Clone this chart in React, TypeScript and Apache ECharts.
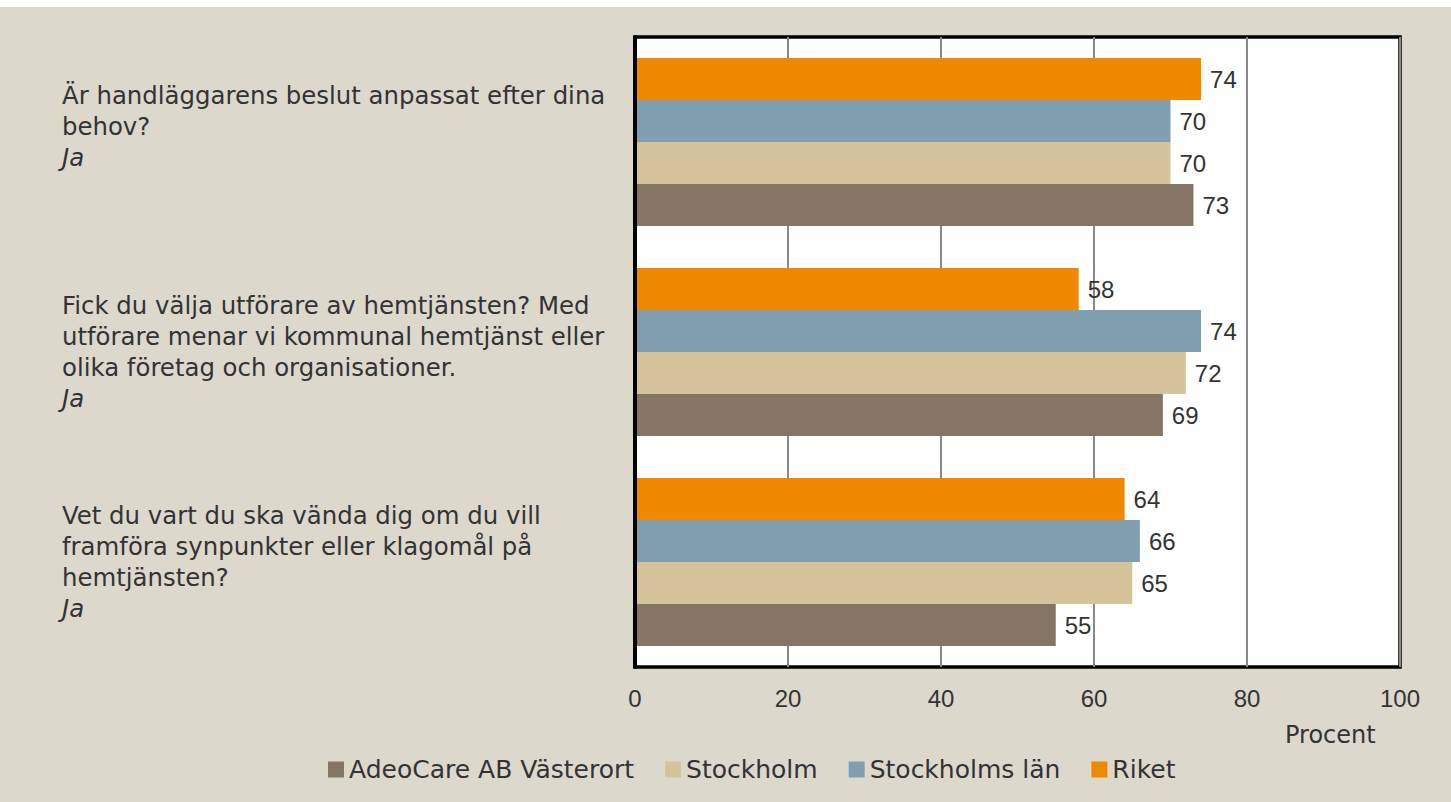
import React, { useEffect, useRef } from "react";
import * as echarts from "echarts";

const categories = [
  "Är handläggarens beslut anpassat efter dina\nbehov?\n{i|Ja}\n ",
  "Fick du välja utförare av hemtjänsten? Med\nutförare menar vi kommunal hemtjänst eller\nolika företag och organisationer.\n{i|Ja}",
  "Vet du vart du ska vända dig om du vill\nframföra synpunkter eller klagomål på\nhemtjänsten?\n{i|Ja}",
];
const legendOrder = ["AdeoCare AB Västerort", "Stockholm", "Stockholms län", "Riket"];
const riket = [74, 58, 64];
const stockholmsLan = [70, 74, 66];
const stockholm = [70, 72, 65];
const adeocare = [73, 69, 55];
const xTicks = [0, 20, 40, 60, 80, 100];

const NUMFONT = "'Liberation Sans', Arial, sans-serif";
const TXTFONT = "'DejaVu Sans', sans-serif";

export default function App() {
  const ref = useRef<HTMLDivElement>(null);
  useEffect(() => {
    if (!ref.current) return;
    const chart = echarts.init(ref.current, undefined, { renderer: "svg" });
    const mk = (name: string, data: number[], color: string) => ({
      name,
      type: "bar",
      data,
      barGap: "0%",
      barCategoryGap: "20%",
      itemStyle: { color },
      label: {
        show: true,
        position: "right",
        distance: 9,
        color: "#333",
        fontSize: 24,
        fontFamily: NUMFONT,
      },
    });
    chart.setOption({
      animation: false,
      backgroundColor: "#dcd9cc",
      textStyle: { fontFamily: TXTFONT },
      grid: {
        left: 635,
        right: 51,
        top: 30,
        bottom: 135,
        show: true,
        backgroundColor: "#fff",
        borderColor: "#000",
        borderWidth: 3.5,
      },
      legend: {
        data: legendOrder,
        left: 323,
        top: 745,
        itemWidth: 16,
        itemHeight: 16,
        itemGap: 31,
        icon: "rect",
        textStyle: { color: "#333", fontSize: 25, fontFamily: TXTFONT },
      },
      xAxis: {
        type: "value",
        min: xTicks[0],
        max: xTicks[xTicks.length - 1],
        interval: 20,
        axisLine: { show: false },
        axisTick: { show: false },
        splitLine: { lineStyle: { color: "#888", width: 2 } },
        axisLabel: { color: "#333", fontSize: 24, margin: 19, fontFamily: NUMFONT },
      },
      yAxis: {
        type: "category",
        data: categories,
        inverse: true,
        z: 10,
        axisLine: { show: true, lineStyle: { color: "#000", width: 4 } },
        axisTick: { show: false },
        axisLabel: {
          align: "left",
          margin: 573,
          color: "#333",
          fontSize: 24.4,
          lineHeight: 31,
          fontFamily: TXTFONT,
          rich: {
            i: { fontStyle: "italic", fontSize: 24.4, lineHeight: 31, color: "#333", fontFamily: TXTFONT },
          },
        },
      },
      graphic: [
        {
          type: "text",
          left: 1285,
          top: 716,
          style: { text: "Procent", fill: "#333", fontSize: 24, fontFamily: TXTFONT },
        },
      ],
      series: [
        mk("Riket", riket, "#ee8800"),
        mk("Stockholms län", stockholmsLan, "#7f9fb1"),
        mk("Stockholm", stockholm, "#d5c39c"),
        mk("AdeoCare AB Västerort", adeocare, "#857565"),
      ],
    });
    return () => chart.dispose();
  }, []);
  return (
    <div
      ref={ref}
      style={{ position: "fixed", left: 0, top: 7, width: 1451, height: 795 }}
    />
  );
}
